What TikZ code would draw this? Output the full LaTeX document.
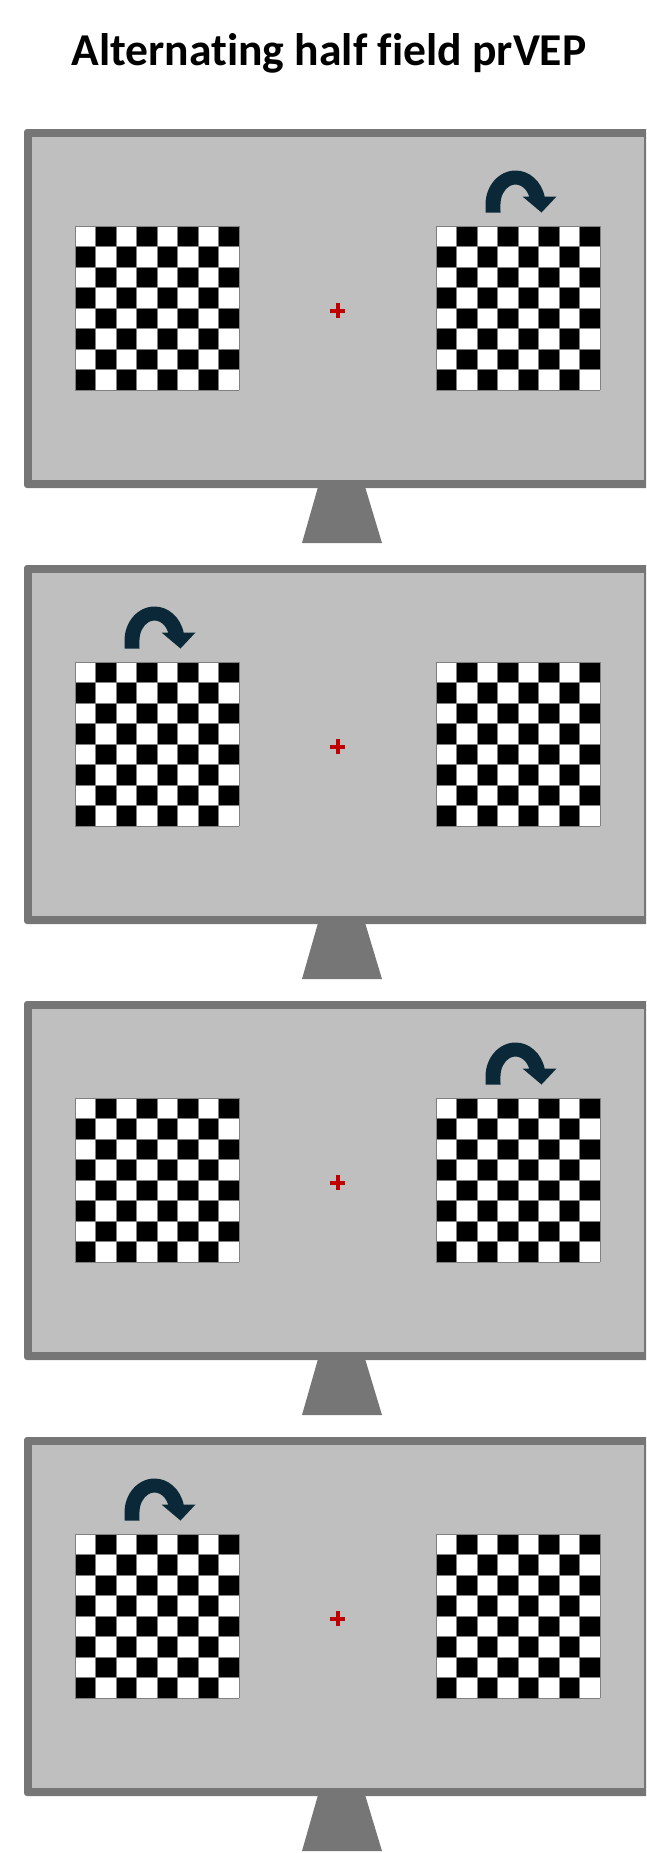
\documentclass[tikz,border=0pt]{standalone}
\usepackage{fontspec}
\setmainfont{Carlito}[Ligatures=NoCommon]
\definecolor{framegray}{HTML}{767676}
\definecolor{screengray}{HTML}{BFBFBF}
\definecolor{flipblue}{HTML}{0B2838}
\definecolor{fixred}{HTML}{C00000}
\tikzset{
  board/.pic={
    \fill[white] (0,0) rectangle (164,164);
    \foreach \i in {0,...,7}{
      \foreach \j in {0,...,7}{
        \pgfmathtruncatemacro\oddcell{mod(\i+\j,2)}
        \ifnum\oddcell=1
          \fill[black] (\i*20.5,\j*20.5) rectangle ++(20.5,20.5);
        \fi
      }
    }
    \foreach \k in {0,...,8}{
      \draw[gray, line width=0.6pt] (\k*20.5,0) -- (\k*20.5,164);
      \draw[gray, line width=0.6pt] (0,\k*20.5) -- (164,\k*20.5);
    }
  },
  flipper/.pic={
    \fill[flipblue] (0,0) -- (0,-8)
      arc[start angle=180, end angle=346.4, x radius=30, y radius=34]
      -- (71,-16) -- (56,0) -- (37,-16) -- (43.7,-16)
      arc[start angle=336.4, end angle=180, x radius=15, y radius=20]
      -- (15,0) -- cycle;
  },
  monitor/.pic={
    \fill[framegray, rounded corners=3pt] (24,0) rectangle (654,359);
    \fill[screengray] (32,8) rectangle (644,351);
    \fill[framegray] (320,351) -- (363,351) -- (382,414) -- (302,414) -- cycle;
    \pic at (75,97) {board};
    \pic at (436,97) {board};
    \fill[fixred] (330,179.5) rectangle (345,183.5);
    \fill[fixred] (335.5,174) rectangle (339.5,189);
  }
}
\begin{document}
\begin{tikzpicture}[x=1pt,y=-1pt]
  \useasboundingbox (0,0) rectangle (646,1853);
  \clip (0,0) rectangle (646,1853);
  \node[anchor=base, font=\bfseries\fontsize{45.6}{50}\selectfont, inner sep=0pt] (title) at (329,65) {Alternat\kern0pt ing half f\kern0pt ield prVEP};
  \pic (m1) at (0,129) {monitor};
  \pic (m2) at (0,565) {monitor};
  \pic (m3) at (0,1001) {monitor};
  \pic (m4) at (0,1437) {monitor};
  \pic (f1) at (485.5,212.5) {flipper};
  \pic (f2) at (124.5,648.5) {flipper};
  \pic (f3) at (485.5,1084.5) {flipper};
  \pic (f4) at (124.5,1520.5) {flipper};
\end{tikzpicture}
\end{document}
